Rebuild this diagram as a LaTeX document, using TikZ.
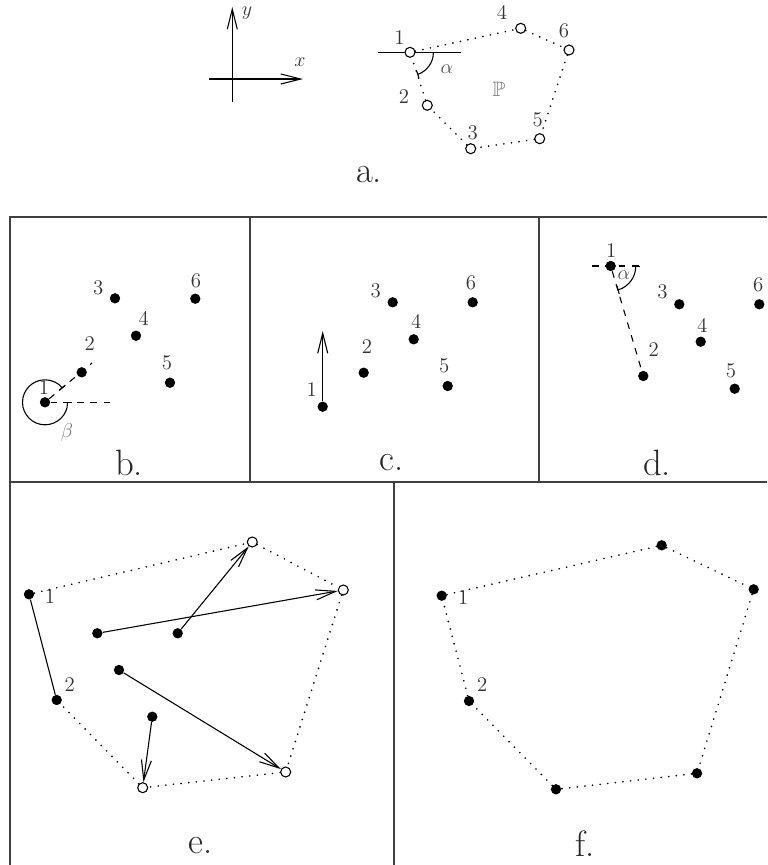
\documentclass[tikz,border=0pt]{standalone}
\usepackage{amsmath,amssymb}
\usetikzlibrary{arrows.meta}
\tikzset{
  odot/.style   ={circle, draw=black, fill=white, line width=0.65pt,
                  minimum size=6pt, inner sep=0pt},
  fdot/.style   ={circle, fill=black, minimum size=6.2pt, inner sep=0pt},
  num/.style    ={font=\fontsize{12.5}{14}\selectfont, text=black!80, inner sep=0pt},
  panellbl/.style={font=\fontsize{22}{26}\selectfont, text=black!85, inner sep=0pt},
  hull/.style   ={line width=1.1pt, dash pattern=on 0pt off 4.6pt, line cap=round},
  dashln/.style ={line width=0.65pt, dash pattern=on 4pt off 4pt},
  solidln/.style={line width=0.65pt},
  framel/.style ={line width=0.9pt, black!75},
  vec/.style    ={-{Straight Barb[length=12pt,width=6pt]}, line width=0.65pt},
  angarc/.style ={{Bar[width=5pt]}-{Bar[width=5pt]}, line width=0.65pt},
}

\begin{document}
\begin{tikzpicture}[x=0.6pt, y=-0.6pt]
  \useasboundingbox (0,0) rectangle (767,865);

  % frame of the panels b--f
  \draw[framel] (10,865) -- (10,217) -- (767,217);
  \draw[framel] (10,482) -- (767,482);
  \draw[framel] (250,217) -- (250,482);
  \draw[framel] (539,217) -- (539,482);
  \draw[framel] (394,482) -- (394,865);

  % a. axes and polygon
  \coordinate (xl) at (209,79);   \coordinate (xr) at (303,79);
  \coordinate (yb) at (232.3,102); \coordinate (yt) at (232.3,7);
  \draw[vec] (xl) -- (xr);
  \draw[vec] (yb) -- (yt);
  \node[num] (xlab) at (300,62) {$x$};
  \node[num] (ylab) at (247,13) {$y$};
  \coordinate (hl) at (378,52.3); \coordinate (hr) at (461,52.3);
  \draw[solidln] (hl) -- (hr);
  \foreach \n/\px/\py/\lx/\ly in {1/410/52.3/399.5/38, 2/427.3/105.3/404/96.7,
      3/470.7/148.7/472.7/132.5, 4/520.7/28.3/502/12.5,
      5/539.7/138.7/537.7/120, 6/569/50/564/30.8} {
    \node[odot] (a\n) at (\px,\py) {};
    \node[num] (la\n) at (\lx,\ly) {\n};}
  \foreach \u/\v in {1/4,4/6,6/5,5/3,3/2,2/1} {\draw[hull] (a\u) -- (a\v);}
  \draw[angarc] ([xshift=14pt]a1.center) arc[start angle=0, end angle=-72, radius=14pt];
  \node[num, text=black!70] (alpha) at (447,69.5) {$\alpha$};
  \node[num, text=black!55] (pp) at (499,89) {$\mathbb{P}$};
  \node[panellbl] (pa) at (369,175) {a.};

  % b. lowest point and angle beta
  \foreach \n/\px/\py/\lx/\ly in {1/45/402.3/44/387.5, 2/81.7/372.3/89.7/343.3,
      3/115/298.3/98.3/287.5, 4/136/335.7/143.7/318.7,
      5/170/382.7/167/363, 6/195.3/298.7/196/280.3} {
    \node[fdot] (b\n) at (\px,\py) {};
    \node[num] (lb\n) at (\lx,\ly) {\n};}
  \coordinate (bh) at (110,402.3); \coordinate (bx) at (92,363);
  \draw[dashln] (b1) -- (bh);
  \draw[dashln] (b1) -- (bx);
  \draw[angarc] ([xshift=13.5pt]b1.center) arc[start angle=0, end angle=-321, radius=13.5pt];
  \node[num, text=black!55] (beta) at (67,432) {$\beta$};
  \node[panellbl] (pb) at (129,463) {b.};

  % c. upward direction
  \foreach \n/\px/\py/\lx/\ly in {1/322.7/406.7/311.7/389.3, 2/363.7/372.7/367/346.3,
      3/392.7/302.3/375.7/290.3, 4/413.7/339.3/416.2/321.7,
      5/447.7/386/444.3/365.5, 6/472.7/302.3/471/282.5} {
    \node[fdot] (c\n) at (\px,\py) {};
    \node[num] (lc\n) at (\lx,\ly) {\n};}
  \coordinate (ct) at (322.7,331);
  \draw[vec] (c1) -- (ct);
  \node[panellbl] (pc) at (392,463) {c.};

  % d. highest point and angle alpha
  \coordinate (dl) at (592,266); \coordinate (dr) at (640,266);
  \draw[dashln] (dl) -- (dr);
  \foreach \n/\px/\py/\lx/\ly in {1/610.7/266/611.3/250.3, 2/643.3/376/653.8/349.3,
      3/679.3/304.3/662.5/292.2, 4/700.7/341.7/702.3/325.3,
      5/734.7/388.7/731/370.5, 6/759.3/304.3/758.3/285} {
    \node[fdot] (d\n) at (\px,\py) {};
    \node[num] (ld\n) at (\lx,\ly) {\n};}
  \draw[dashln] (d1) -- (d2);
  \draw[angarc] ([xshift=15pt]d1.center) arc[start angle=0, end angle=-74, radius=15pt];
  \node[num, text=black!70] (alphad) at (624,274.7) {$\alpha$};
  \node[panellbl] (pd) at (657,463) {d.};

  % e. points moved onto the hull
  \node[fdot] (e1) at (29,594.3) {};
  \node[fdot] (e2) at (56.7,700) {};
  \node[num] (le1) at (50,596.7) {1};
  \node[num] (le2) at (69.7,685) {2};
  \node[odot] (eT)  at (252.3,542) {};
  \node[odot] (eR)  at (343.3,590) {};
  \node[odot] (eBR) at (285.7,772) {};
  \node[odot] (eB)  at (142.7,787.7) {};
  \node[fdot] (eP) at (97.3,633.3) {};
  \node[fdot] (eQ) at (177.7,633.3) {};
  \node[fdot] (eS) at (119,670) {};
  \node[fdot] (eU) at (152.3,716.7) {};
  \draw[solidln] (e1) -- (e2);
  \foreach \u/\v in {1/T,T/R,R/BR,BR/B,B/2} {\draw[hull] (e\u) -- (e\v);}
  \foreach \u/\v in {P/R,Q/T,S/BR,U/B} {\draw[vec] (e\u) -- (e\v);}
  \node[panellbl] (pe) at (200.7,846) {e.};

  % f. resulting polygon
  \foreach \n/\px/\py in {1/441.7/595.7, 2/469/701, T/661.7/545.3,
      R/753.7/589.3, BR/697/773.3, B/556/789.3} {
    \node[fdot] (f\n) at (\px,\py) {};}
  \node[num] (lf1) at (463.3,597.8) {1};
  \node[num] (lf2) at (482.3,685) {2};
  \foreach \u/\v in {1/T,T/R,R/BR,BR/B,B/2,2/1} {\draw[hull] (f\u) -- (f\v);}
  \node[panellbl] (pf) at (585,844) {f.};
\end{tikzpicture}
\end{document}
